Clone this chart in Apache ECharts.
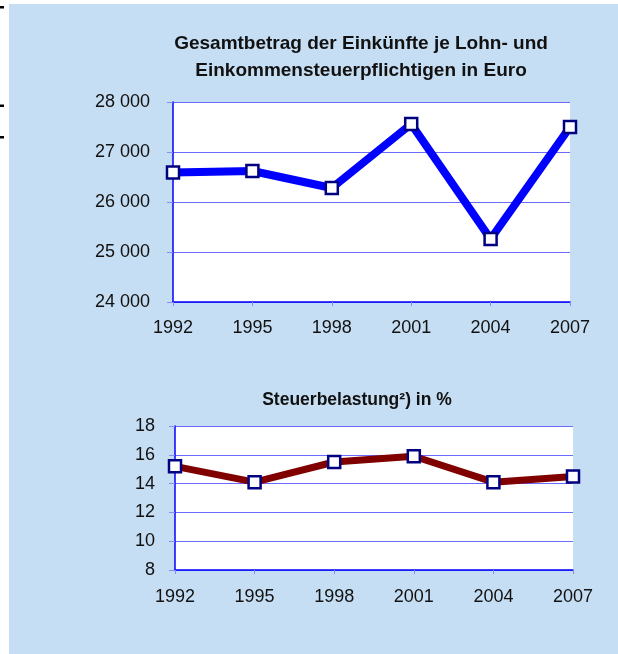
<!DOCTYPE html>
<html>
<head>
<meta charset="utf-8">
<script src="https://cdn.jsdelivr.net/npm/echarts@6/dist/echarts.min.js"></script>
<style>
html,body{margin:0;padding:0;background:#fff;}
#c{width:618px;height:654px;}
</style>
</head>
<body>
<div id="c"></div>
<script>
const years = ['1992','1995','1998','2001','2004','2007'];
const einkuenfte = [26590, 26620, 26280, 27560, 25260, 27500];
const belastung = [15.2, 14.1, 15.5, 15.9, 14.1, 14.5];
const title1 = 'Gesamtbetrag der Einkünfte je Lohn- und\nEinkommensteuerpflichtigen in Euro';
const title2 = 'Steuerbelastung²) in %';

const FONT = '"Liberation Sans", Arial, sans-serif';
const chart = echarts.init(document.getElementById('c'), null, {renderer: 'canvas'});

function fmtThousands(v){
  return String(v).replace(/\B(?=(\d{3})+(?!\d))/g, ' ');
}

const axisLineBlue = {show: true, lineStyle: {color: '#0000FF', width: 1.5}};
const gridLine = {show: true, lineStyle: {color: '#6b6bff', width: 1}};
const tickStyle = {color: '#8a8aff'};
const labelStyle = {fontFamily: FONT, fontSize: 18, color: '#111'};

chart.setOption({
  animation: false,
  backgroundColor: '#ffffff',
  graphic: [
    {type: 'rect', shape: {x: 9, y: 4, width: 609, height: 650}, style: {fill: '#C6DEF3'}, z: -10},
    {type: 'rect', shape: {x: 173, y: 102, width: 397, height: 200}, style: {fill: '#ffffff'}, z: -5},
    {type: 'rect', shape: {x: 175, y: 426, width: 398, height: 144}, style: {fill: '#ffffff'}, z: -5},
    {type: 'rect', shape: {x: 0, y: 6, width: 4, height: 2.5}, style: {fill: '#000'}},
    {type: 'rect', shape: {x: 0, y: 104.5, width: 4, height: 2.5}, style: {fill: '#000'}},
    {type: 'rect', shape: {x: 0, y: 136, width: 4, height: 2.5}, style: {fill: '#000'}}
  ],
  title: [
    {text: title1, left: 356, top: 25, textAlign: 'center',
     textStyle: {fontFamily: FONT, fontWeight: 'bold', fontSize: 19, lineHeight: 27, color: '#111'}},
    {text: title2, left: 352, top: 386, textAlign: 'center',
     textStyle: {fontFamily: FONT, fontWeight: 'bold', fontSize: 17.5, color: '#111'}}
  ],
  grid: [
    {left: 173, top: 102, width: 397, height: 200},
    {left: 175, top: 426, width: 398, height: 144}
  ],
  xAxis: [
    {type: 'category', gridIndex: 0, data: years, boundaryGap: false,
     axisLine: axisLineBlue,
     axisTick: {show: true, length: 4, lineStyle: tickStyle},
     axisLabel: Object.assign({margin: 17}, labelStyle),
     splitLine: {show: false}},
    {type: 'category', gridIndex: 1, data: years, boundaryGap: false,
     axisLine: axisLineBlue,
     axisTick: {show: true, length: 4, lineStyle: tickStyle},
     axisLabel: Object.assign({margin: 18}, labelStyle),
     splitLine: {show: false}}
  ],
  yAxis: [
    {type: 'value', gridIndex: 0, min: 24000, max: 28000, interval: 1000,
     axisLine: axisLineBlue,
     axisTick: {show: true, length: 6, lineStyle: tickStyle},
     axisLabel: Object.assign({margin: 23, formatter: fmtThousands}, labelStyle),
     splitLine: gridLine},
    {type: 'value', gridIndex: 1, min: 8, max: 18, interval: 2,
     axisLine: axisLineBlue,
     axisTick: {show: true, length: 6, lineStyle: tickStyle},
     axisLabel: Object.assign({margin: 20}, labelStyle),
     splitLine: gridLine}
  ],
  series: [
    {type: 'line', xAxisIndex: 0, yAxisIndex: 0, data: einkuenfte,
     lineStyle: {color: '#0000FF', width: 8},
     symbol: 'rect', symbolSize: 12,
     itemStyle: {color: '#ffffff', borderColor: '#000080', borderWidth: 2.5},
     z: 5},
    {type: 'line', xAxisIndex: 1, yAxisIndex: 1, data: belastung,
     lineStyle: {color: '#800000', width: 7},
     symbol: 'rect', symbolSize: 12,
     itemStyle: {color: '#ffffff', borderColor: '#000080', borderWidth: 2.5},
     z: 5}
  ]
});
</script>
</body>
</html>
